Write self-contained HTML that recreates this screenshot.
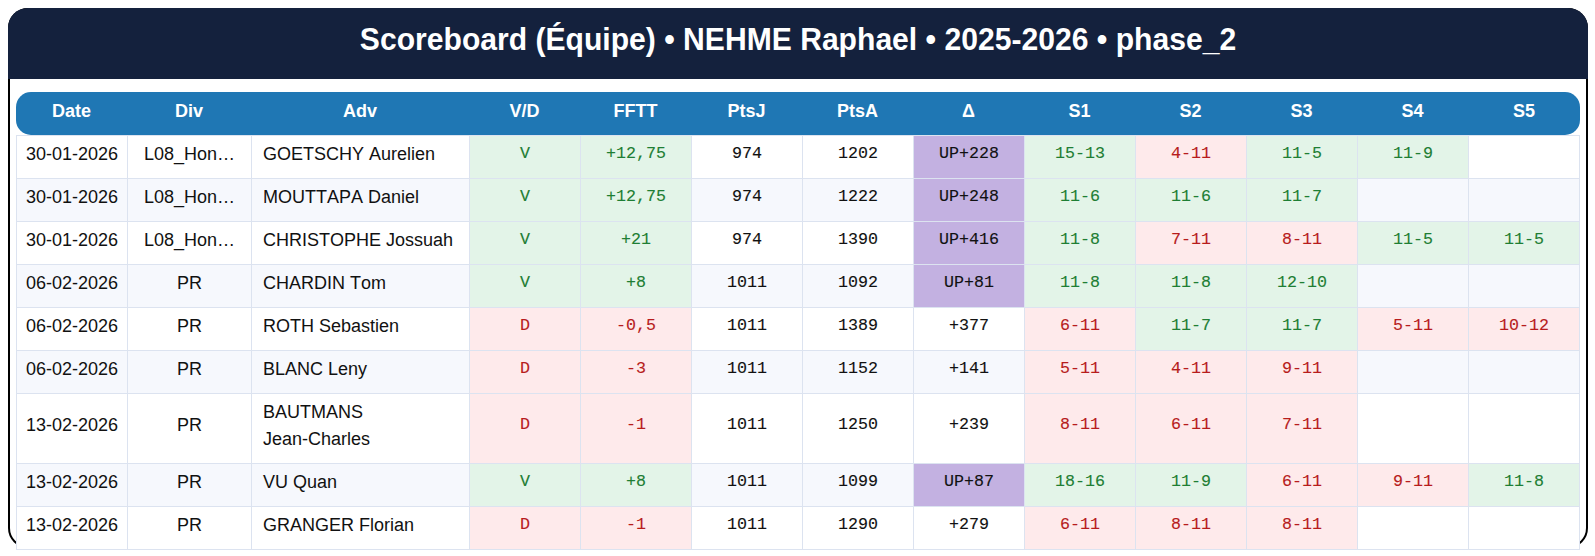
<!DOCTYPE html>
<html><head><meta charset="utf-8">
<style>
html,body{margin:0;padding:0;background:#fff;}
body{width:1595px;height:556px;overflow:hidden;position:relative;font-family:"Liberation Sans",sans-serif;font-kerning:none;}
.card{position:absolute;left:8px;top:8px;width:1580px;height:540px;box-sizing:border-box;border:2px solid #000;border-radius:20px;}
.hdr{position:absolute;left:8px;top:8px;width:1580px;height:71px;background:#14213d;border-radius:20px 20px 0 0;}
.ttl{position:absolute;left:0;right:0;top:0;color:#fff;font-weight:bold;font-size:32px;text-align:center;line-height:62px;transform:scaleX(0.9405);}
table{position:absolute;left:16px;top:92px;border-collapse:separate;border-spacing:0;width:1564px;table-layout:fixed;}
th{background:#1f77b4;color:#fff;font-weight:bold;font-size:18px;height:43px;box-sizing:border-box;padding:0 0 4px 0;text-align:center;vertical-align:middle;}
th:first-child{border-radius:15px 0 0 15px;}
th:last-child{border-radius:0 15px 15px 0;}
td{height:43px;box-sizing:border-box;padding:0 0 6px 0;text-align:center;vertical-align:middle;border-left:1px solid #dce3f0;border-top:1px solid #dce3f0;font-size:18px;color:#111;background:#fff;}
td:last-child{border-right:1px solid #dce3f0;}
tr:last-child td{border-bottom:1px solid #dce3f0;height:44px;}
tr:nth-child(even) td{background:#f6f8fd;}
td.adv{text-align:left;padding-left:11px;line-height:27px;}
td.m{font-family:"Liberation Mono",monospace;font-size:16.67px;padding-bottom:8px;-webkit-text-stroke:0.12px currentColor;}
td.w{background:#e3f4e8 !important;color:#1e7e34;}
td.l{background:#feeaeb !important;color:#b71c1c;}
td.up{background:#c3b1e1 !important;}
tr.tall td{height:70px;}
</style></head><body>
<div class="card"></div>
<div class="hdr"><div class="ttl">Scoreboard (Équipe) • NEHME Raphael • 2025-2026 • phase_2</div></div>
<table>
<colgroup><col style="width:111px"><col style="width:124px"><col style="width:218px"><col style="width:111px"><col style="width:111px"><col style="width:111px"><col style="width:111px"><col style="width:111px"><col style="width:111px"><col style="width:111px"><col style="width:111px"><col style="width:111px"><col style="width:112px"></colgroup>
<thead><tr><th>Date</th><th>Div</th><th>Adv</th><th>V/D</th><th>FFTT</th><th>PtsJ</th><th>PtsA</th><th>Δ</th><th>S1</th><th>S2</th><th>S3</th><th>S4</th><th>S5</th></tr></thead>
<tbody>
<tr><td class="s">30-01-2026</td><td class="s">L08_Hon…</td><td class="s adv">GOETSCHY Aurelien</td><td class="m w">V</td><td class="m w">+12,75</td><td class="m">974</td><td class="m">1202</td><td class="m up">UP+228</td><td class="m w">15-13</td><td class="m l">4-11</td><td class="m w">11-5</td><td class="m w">11-9</td><td class="m "></td></tr>
<tr><td class="s">30-01-2026</td><td class="s">L08_Hon…</td><td class="s adv">MOUTTAPA Daniel</td><td class="m w">V</td><td class="m w">+12,75</td><td class="m">974</td><td class="m">1222</td><td class="m up">UP+248</td><td class="m w">11-6</td><td class="m w">11-6</td><td class="m w">11-7</td><td class="m "></td><td class="m "></td></tr>
<tr><td class="s">30-01-2026</td><td class="s">L08_Hon…</td><td class="s adv">CHRISTOPHE Jossuah</td><td class="m w">V</td><td class="m w">+21</td><td class="m">974</td><td class="m">1390</td><td class="m up">UP+416</td><td class="m w">11-8</td><td class="m l">7-11</td><td class="m l">8-11</td><td class="m w">11-5</td><td class="m w">11-5</td></tr>
<tr><td class="s">06-02-2026</td><td class="s">PR</td><td class="s adv">CHARDIN Tom</td><td class="m w">V</td><td class="m w">+8</td><td class="m">1011</td><td class="m">1092</td><td class="m up">UP+81</td><td class="m w">11-8</td><td class="m w">11-8</td><td class="m w">12-10</td><td class="m "></td><td class="m "></td></tr>
<tr><td class="s">06-02-2026</td><td class="s">PR</td><td class="s adv">ROTH Sebastien</td><td class="m l">D</td><td class="m l">-0,5</td><td class="m">1011</td><td class="m">1389</td><td class="m">+377</td><td class="m l">6-11</td><td class="m w">11-7</td><td class="m w">11-7</td><td class="m l">5-11</td><td class="m l">10-12</td></tr>
<tr><td class="s">06-02-2026</td><td class="s">PR</td><td class="s adv">BLANC Leny</td><td class="m l">D</td><td class="m l">-3</td><td class="m">1011</td><td class="m">1152</td><td class="m">+141</td><td class="m l">5-11</td><td class="m l">4-11</td><td class="m l">9-11</td><td class="m "></td><td class="m "></td></tr>
<tr class="tall"><td class="s">13-02-2026</td><td class="s">PR</td><td class="s adv">BAUTMANS<br>Jean-Charles</td><td class="m l">D</td><td class="m l">-1</td><td class="m">1011</td><td class="m">1250</td><td class="m">+239</td><td class="m l">8-11</td><td class="m l">6-11</td><td class="m l">7-11</td><td class="m "></td><td class="m "></td></tr>
<tr><td class="s">13-02-2026</td><td class="s">PR</td><td class="s adv">VU Quan</td><td class="m w">V</td><td class="m w">+8</td><td class="m">1011</td><td class="m">1099</td><td class="m up">UP+87</td><td class="m w">18-16</td><td class="m w">11-9</td><td class="m l">6-11</td><td class="m l">9-11</td><td class="m w">11-8</td></tr>
<tr><td class="s">13-02-2026</td><td class="s">PR</td><td class="s adv">GRANGER Florian</td><td class="m l">D</td><td class="m l">-1</td><td class="m">1011</td><td class="m">1290</td><td class="m">+279</td><td class="m l">6-11</td><td class="m l">8-11</td><td class="m l">8-11</td><td class="m "></td><td class="m "></td></tr>
</tbody></table>
</body></html>
